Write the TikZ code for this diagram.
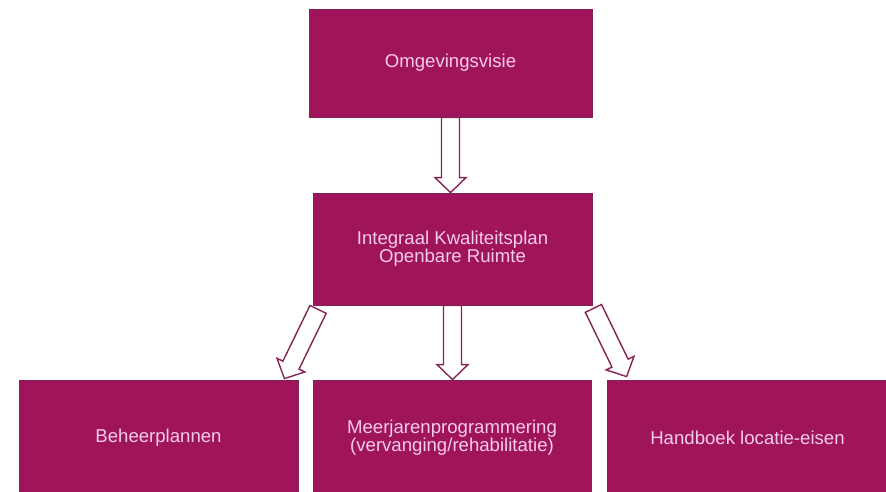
\documentclass[tikz,border=0pt]{standalone}
\usepackage{fontspec}
\setmainfont{Liberation Sans}
\usetikzlibrary{calc}
\definecolor{boxc}{RGB}{160,20,92}
\definecolor{boxline}{RGB}{125,35,85}
\definecolor{txtc}{RGB}{246,204,236}
\definecolor{arrc}{RGB}{135,35,85}
\newcommand\blockarr[2]{%
  \coordinate (#1n) at ($(#2)!15pt!(#1)$);
  \draw[arrowline] ($(#1)!9pt!90:(#2)$) -- ($(#1n)!9pt!90:(#2)$) -- ($(#1n)!15.5pt!90:(#2)$) -- (#2) -- ($(#1n)!15.5pt!-90:(#2)$) -- ($(#1n)!9pt!-90:(#2)$) -- ($(#1)!9pt!-90:(#2)$) -- cycle;}
\begin{document}
\begin{tikzpicture}[x=1pt,y=-1pt,
  box/.style={rectangle, fill=boxc, draw=boxline, line width=0.8pt, text=txtc,
    font=\fontsize{18.6}{17}\selectfont, align=center, inner sep=0pt},
  arrowline/.style={draw=arrc, fill=white, line width=1.4pt, line join=miter}]
\useasboundingbox (0,0) rectangle (886,492);
\node[box, minimum width=283pt, minimum height=108pt] (top) at (450.5,63) {Omgevingsvisie};
\node[box, minimum width=279pt, minimum height=112pt] (mid) at (452.5,249) {Integraal Kwaliteitsplan\\Openbare Ruimte};
\node[box, minimum width=279pt, minimum height=116pt] (bl) at (158.5,438) {Beheerplannen};
\node[box, minimum width=278pt, minimum height=116pt] (bm) at (452,438) {Meerjarenprogrammering\\(vervanging/rehabilitatie)};
\node[box, minimum width=281pt, minimum height=116pt] (br) at (747.5,438) {Handboek locatie-eisen};
\coordinate (a1) at (top.south);
\coordinate (b1) at (top.south |- mid.north);
\coordinate (a2) at (mid.south);
\coordinate (b2) at (mid.south |- bm.north);
\coordinate (a3) at ($(mid.south west)+(5.5,4)$);
\coordinate (b3) at ($(bl.north east)+(-14,-1)$);
\coordinate (a4) at ($(mid.south east)+(1,3)$);
\coordinate (b4) at ($(br.north west)+(20,-3)$);
\blockarr{a1}{b1}
\blockarr{a2}{b2}
\blockarr{a3}{b3}
\blockarr{a4}{b4}
\end{tikzpicture}
\end{document}
